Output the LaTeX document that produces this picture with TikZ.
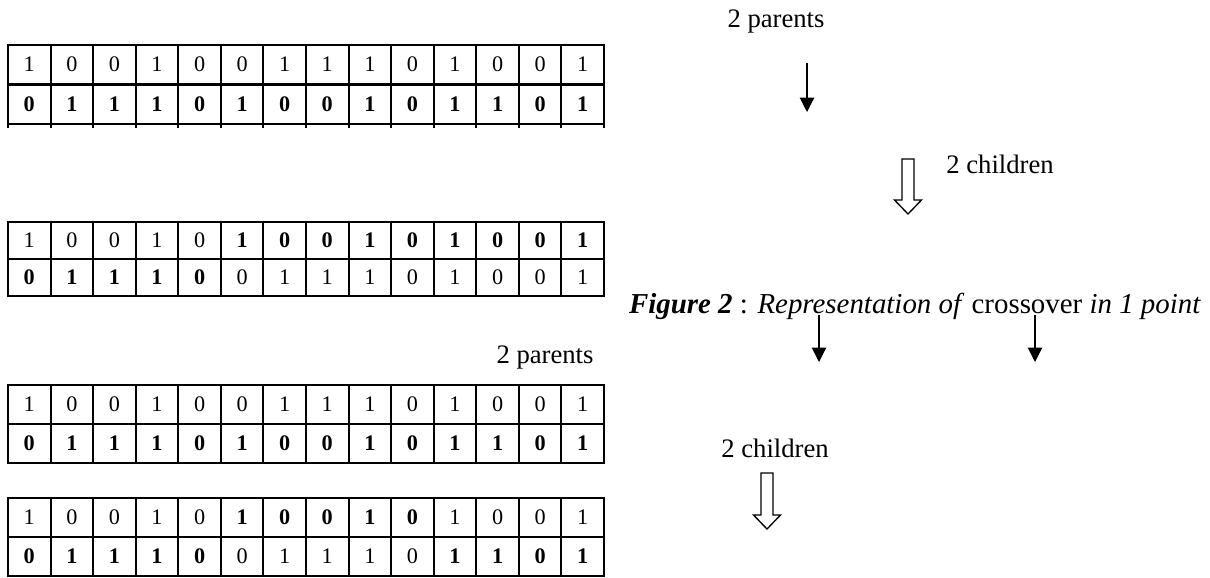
\documentclass[tikz,border=0pt]{standalone}
\usepackage{fontspec}
\setmainfont{Liberation Serif}
\usetikzlibrary{arrows.meta}
\tikzset{cell/.style={draw,line width=0.9pt,minimum width=19.16pt,minimum height=17.55pt,inner sep=0pt,font=\fontsize{10}{12}\selectfont}}
\tikzset{lo/.style={}}
\tikzset{hi/.style={font=\fontsize{10}{12}\selectfont\bfseries}}
\tikzset{lbl/.style={inner sep=0pt,font=\fontsize{12}{14}\selectfont}}
\tikzset{down/.style={line width=0.5pt,-{Triangle[length=6.5pt,width=6.5pt]}}}
\tikzset{hollow/.style={line width=0.6pt,line join=miter}}

\begin{document}
\begin{tikzpicture}[x=0.45pt,y=-0.45pt]
    \useasboundingbox (0,0) rectangle (1210,577);
    % first pair of parents
    \foreach \v/\s [count=\i] in {1/lo,0/lo,0/lo,1/lo,0/lo,0/lo,1/lo,1/lo,1/lo,0/lo,1/lo,0/lo,0/lo,1/lo}
      \node[cell,\s] (ap\i) at ({8+(\i-0.5)*42.57},64.5) {\v};
    \foreach \v/\s [count=\i] in {0/hi,1/hi,1/hi,1/hi,0/hi,1/hi,0/hi,0/hi,1/hi,0/hi,1/hi,1/hi,0/hi,1/hi}
      \node[cell,\s] (aq\i) at ({8+(\i-0.5)*42.57},104) {\v};
    \foreach \i in {0,...,14}
      \draw[line width=0.9pt] ({8+\i*42.57},124) -- ++(0,4);
    % children of the 1 point crossover
    \foreach \v/\s [count=\i] in {1/lo,0/lo,0/lo,1/lo,0/lo,1/hi,0/hi,0/hi,1/hi,0/hi,1/hi,0/hi,0/hi,1/hi}
      \node[cell,\s,minimum height=16.65pt] (bp\i) at ({8+(\i-0.5)*42.57},240.5) {\v};
    \foreach \v/\s [count=\i] in {0/hi,1/hi,1/hi,1/hi,0/hi,0/lo,1/lo,1/lo,1/lo,0/lo,1/lo,0/lo,0/lo,1/lo}
      \node[cell,\s,minimum height=16.65pt] (bq\i) at ({8+(\i-0.5)*42.57},277.5) {\v};
    % second pair of parents
    \foreach \v/\s [count=\i] in {1/lo,0/lo,0/lo,1/lo,0/lo,0/lo,1/lo,1/lo,1/lo,0/lo,1/lo,0/lo,0/lo,1/lo}
      \node[cell,\s] (cp\i) at ({8+(\i-0.5)*42.57},404) {\v};
    \foreach \v/\s [count=\i] in {0/hi,1/hi,1/hi,1/hi,0/hi,1/hi,0/hi,0/hi,1/hi,0/hi,1/hi,1/hi,0/hi,1/hi}
      \node[cell,\s] (cq\i) at ({8+(\i-0.5)*42.57},443.5) {\v};
    % children of the 2 point crossover
    \foreach \v/\s [count=\i] in {1/lo,0/lo,0/lo,1/lo,0/lo,1/hi,0/hi,0/hi,1/hi,0/hi,1/lo,0/lo,0/lo,1/lo}
      \node[cell,\s] (dp\i) at ({8+(\i-0.5)*42.57},517.5) {\v};
    \foreach \v/\s [count=\i] in {0/hi,1/hi,1/hi,1/hi,0/hi,0/lo,1/lo,1/lo,1/lo,0/lo,1/hi,1/hi,0/hi,1/hi}
      \node[cell,\s] (dq\i) at ({8+(\i-0.5)*42.57},556.5) {\v};

    \node[lbl] (par1) at (776,22) {2 parents};
    \coordinate (pa1) at (807,63);
    \coordinate (pa2) at (807,112);
    \draw[down] (pa1) -- (pa2);
    \node[lbl] (chi1) at (1000,164) {2 children};
    \coordinate (ha1) at (908,159);
    \draw[hollow] (ha1) ++(-6,0) -- ++(0,41) -- ++(-7.5,0) -- ++(13.5,14) -- ++(13.5,-14) -- ++(-7.5,0) -- ++(0,-41) -- cycle;

    \node[lbl,anchor=base,font=\fontsize{13}{15}\selectfont] (cap) at (915,313) {\textbf{\textit{Figure 2}} : \textit{Representation of} crossover \textit{in 1 point}};
    \coordinate (pb1) at (819,315);
    \coordinate (pb2) at (819,362);
    \draw[down] (pb1) -- (pb2);
    \coordinate (pc1) at (1035,315);
    \coordinate (pc2) at (1035,362);
    \draw[down] (pc1) -- (pc2);

    \node[lbl] (par2) at (545,357) {2 parents};
    \node[lbl] (chi2) at (775,448) {2 children};
    \coordinate (ha2) at (767,473);
    \draw[hollow] (ha2) ++(-6,0) -- ++(0,42) -- ++(-7.5,0) -- ++(13.5,14) -- ++(13.5,-14) -- ++(-7.5,0) -- ++(0,-42) -- cycle;
\end{tikzpicture}
\end{document}
